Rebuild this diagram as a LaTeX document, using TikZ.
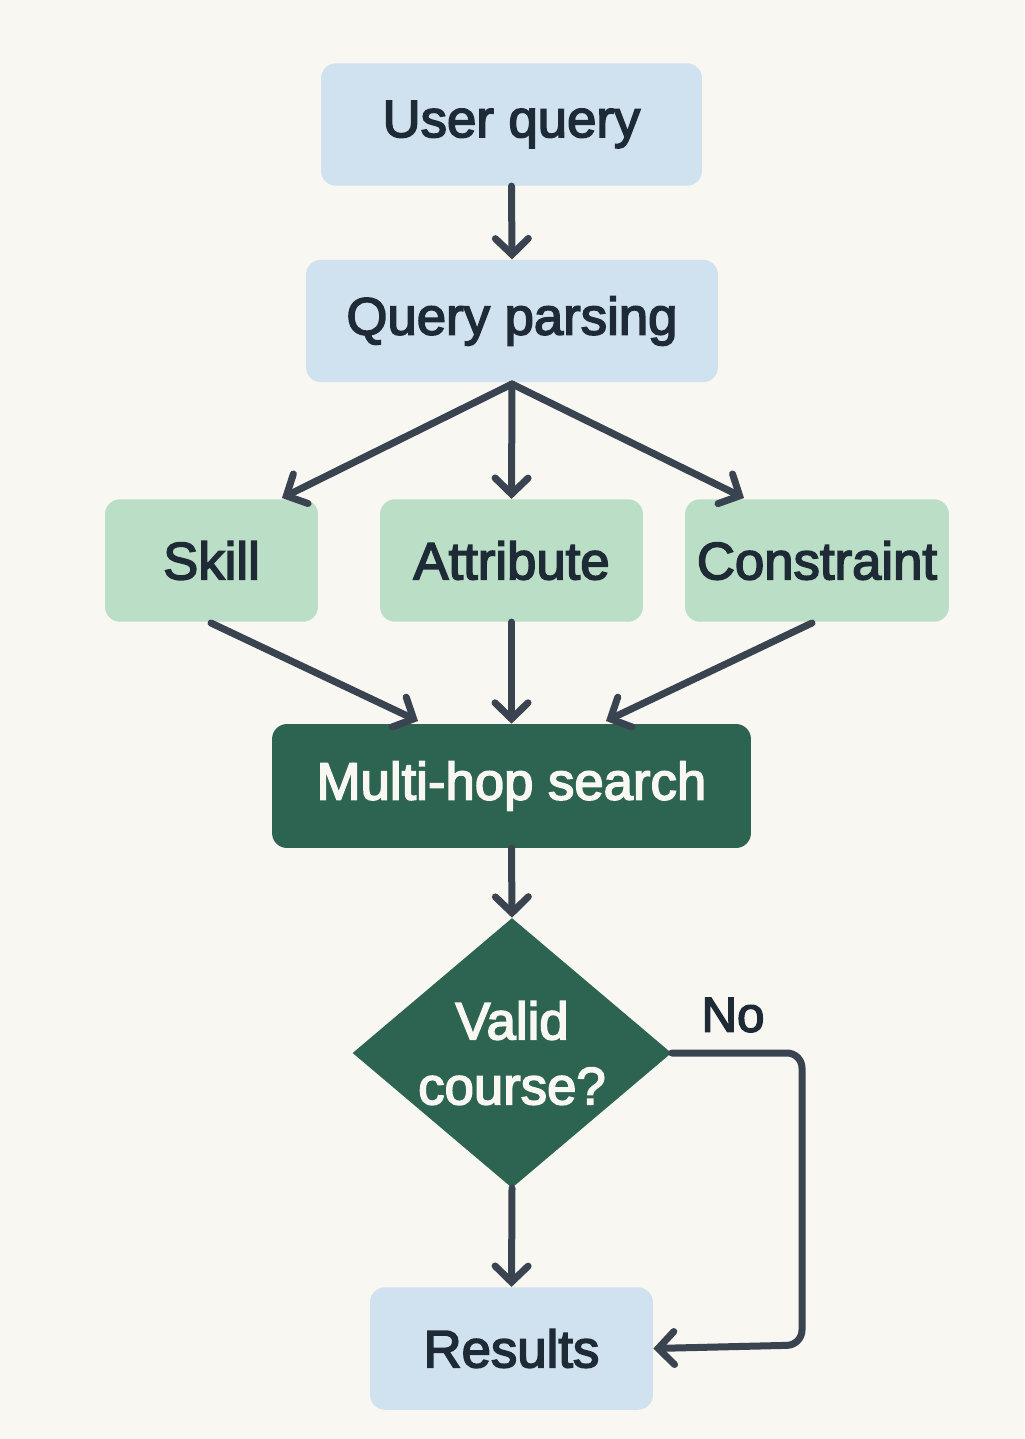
\documentclass[tikz,border=0pt]{standalone}
\usepackage{fontspec}
\newfontfamily\labelfont{Liberation Sans}[FakeBold = 3]
\usetikzlibrary{arrows.meta,shapes.geometric}
\definecolor{bgcol}{HTML}{F9F7F2}
\definecolor{lightblue}{HTML}{D0E1EF}
\definecolor{lightgreen}{HTML}{BBDFC6}
\definecolor{darkgreen}{HTML}{2C6351}
\definecolor{inkcol}{HTML}{1E2A35}
\definecolor{linecol}{HTML}{3A4350}
\tikzset{
    box/.style = {rectangle, rounded corners = 0.3cm, draw = none, text = inkcol,
        font = \labelfont\fontsize{30}{37}\selectfont, align = center},
    bluebox/.style = {box, fill = lightblue, minimum height = 2.45cm},
    greenbox/.style = {box, fill = lightgreen, minimum height = 2.45cm},
    darkbox/.style = {box, fill = darkgreen, text = bgcol, minimum height = 2.48cm},
    flow/.style = {draw = linecol, line width = 0.14cm, line cap = round,
        -{Straight Barb[length = 0.32cm, width = 0.66cm, line cap = round]}}
}
\begin{document}
\begin{tikzpicture}[x = 0.02cm, y = -0.02cm]
        \fill[bgcol] (0, 0) rectangle (1024, 1439);
        \useasboundingbox (0, 0) rectangle (1024, 1439);
        % boxes
        \node[bluebox, minimum width = 7.62cm] (query) at (511.5, 124.5) {User query};
        \node[bluebox, minimum width = 8.24cm] (parse) at (512, 321) {Query parsing};
        \node[greenbox, minimum width = 4.26cm] (skill) at (211.5, 560.5) {Skill};
        \node[greenbox, minimum width = 5.26cm] (attr) at (511.5, 560.5) {Attribute};
        \node[greenbox, minimum width = 5.28cm] (constr) at (817, 560.5) {Constraint};
        \node[darkbox, minimum width = 9.58cm] (search) at (511.5, 786) {Multi-hop search};
        \node[diamond, fill = darkgreen, text = bgcol, inner sep = 0pt,
            minimum width = 6.38cm, minimum height = 5.4cm, aspect = 1.18,
            font = \labelfont\fontsize{30}{37}\selectfont, align = center] (valid) at (512, 1053) {Valid\\course?};
        \node[text = inkcol, font = \labelfont\fontsize{28}{32}\selectfont] (no) at (733, 1015) {No};
        \node[bluebox, minimum width = 5.66cm] (results) at (511.5, 1348.5) {Results};
        % connectors
        \coordinate (pbot) at (512, 384);
        \coordinate (skin) at (282, 498);
        \coordinate (conin) at (744, 498);
        \coordinate (skout) at (211, 623);
        \coordinate (conout) at (812, 623);
        \coordinate (sin1) at (418, 721);
        \coordinate (sin3) at (606, 721);
        \coordinate (turn1) at (802, 1053);
        \coordinate (turn2) at (802, 1345);
        \draw[flow] (query.south) -- (parse.north);
        \draw[flow] (pbot) -- (skin);
        \draw[flow] (pbot) -- (attr.north);
        \draw[flow] (pbot) -- (conin);
        \draw[flow] (skout) -- (sin1);
        \draw[flow] (attr.south) -- (search.north);
        \draw[flow] (conout) -- (sin3);
        \draw[flow] (search.south) -- (valid.north);
        \draw[flow] (valid.south) -- (results.north);
        \draw[flow, rounded corners = 0.3cm] (valid.east) -- (turn1) -- (turn2) -- (results.east);
    \end{tikzpicture}
\end{document}
